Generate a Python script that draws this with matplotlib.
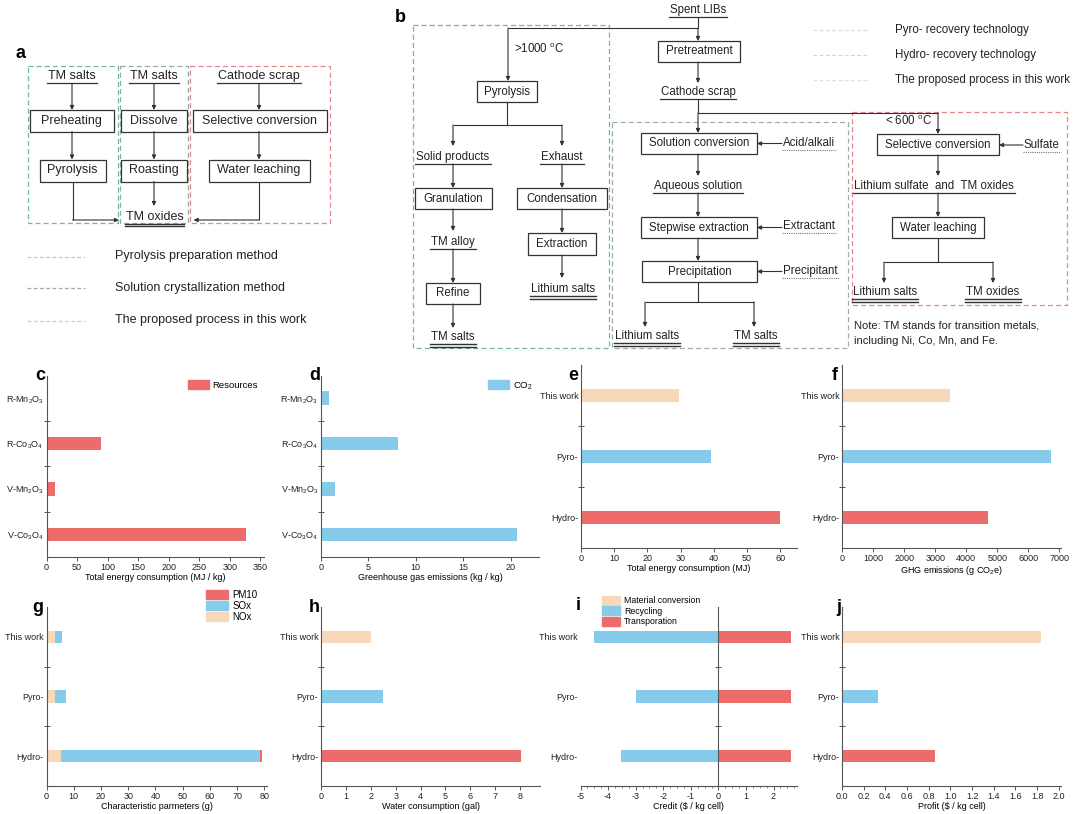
import numpy as np
import matplotlib
matplotlib.use('Agg')
import matplotlib.pyplot as plt
from matplotlib.patches import Rectangle, Patch
from matplotlib.ticker import MultipleLocator

plt.rcParams['font.family'] = ['Liberation Sans', 'DejaVu Sans']
plt.rcParams['mathtext.default'] = 'regular'
plt.rcParams['axes.unicode_minus'] = False

# ---------------- data ----------------
cd_categories = ['R-Mn$_2$O$_3$', 'R-Co$_3$O$_4$', 'V-Mn$_2$O$_3$', 'V-Co$_3$O$_4$']
c_energy = [0, 89, 14, 326]             # MJ / kg
d_ghg = [0.8, 8.1, 1.5, 20.7]           # kg / kg

routes = ['This work', 'Pyro-', 'Hydro-']
e_energy = [29.5, 39.0, 60.0]           # MJ
f_ghg = [3490, 6740, 4710]              # g CO2e
g_nox = [3.2, 3.2, 5.5]
g_sox = [2.5, 3.8, 72.8]
g_pm10 = [0.1, 0.2, 0.8]
h_water = [2.0, 2.5, 8.05]              # gal
i_material = [0.0, 0.0, 0.0]
i_recycling = [-4.5, -3.0, -3.53]
i_transport = [2.63, 2.63, 2.63]
j_profit = [1.84, 0.33, 0.86]

RED = '#EE6B6B'
BLUE = '#86CBEC'
PEACH = '#F9D8BA'
TXT = '#222222'
LINE = '#333333'

W, H = 1080, 814
fig = plt.figure(figsize=(10.8, 8.14), dpi=100)
ov = fig.add_axes([0, 0, 1, 1])
ov.set_xlim(0, W)
ov.set_ylim(H, 0)
ov.axis('off')
renderer = fig.canvas.get_renderer()


def rect(x0, y0, x1, y1, **kw):
    ov.add_patch(Rectangle((x0, y0), x1 - x0, y1 - y0, fill=False, **kw))


def box(x0, y0, x1, y1, label, fs=9):
    rect(x0, y0, x1, y1, ec=LINE, lw=0.9)
    ov.text((x0 + x1) / 2, (y0 + y1) / 2, label, ha='center', va='center',
            fontsize=fs, color=TXT)


def dbox(x0, y0, x1, y1, color):
    rect(x0, y0, x1, y1, ec=color, lw=0.9, ls=(0, (4, 2.5)))


def arrow(x0, y0, x1, y1):
    ov.annotate('', xy=(x1, y1), xytext=(x0, y0),
                arrowprops=dict(arrowstyle='-|>', color=LINE, lw=0.8,
                                mutation_scale=6, shrinkA=0, shrinkB=0))


def line(xs, ys):
    ov.plot(xs, ys, color=LINE, lw=0.8, solid_capstyle='butt')


def utext(x, y, s, fs=9, kind='single', ha='center'):
    t = ov.text(x, y, s, ha=ha, va='center', fontsize=fs, color=TXT)
    bb = t.get_window_extent(renderer)
    x0, x1 = bb.x0 - 1, bb.x1 + 1
    yb = H - bb.y0 + 1
    if kind == 'single':
        ov.plot([x0, x1], [yb, yb], color=LINE, lw=0.9)
    elif kind == 'double':
        ov.plot([x0, x1], [yb, yb], color=LINE, lw=1.0)
        ov.plot([x0, x1], [yb + 2.6, yb + 2.6], color=LINE, lw=1.0)
    elif kind == 'dotted':
        ov.plot([x0, x1], [yb, yb], color='#777777', lw=0.8, ls=(0, (1, 1)))


# ---------------- panel a ----------------
ov.text(20, 53, 'a', fontsize=13, fontweight='bold', ha='center', va='center')
dbox(27.5, 65.5, 117.5, 222.5, '#6FB89F')
dbox(119.5, 65.5, 188, 222.5, '#8FAFA4')
dbox(190, 65.5, 330, 222.5, '#E5868C')

fa = 9
utext(72, 76, 'TM salts', fa)
utext(154, 76, 'TM salts', fa)
utext(259, 76, 'Cathode scrap', fa)
for x in (72, 154, 259):
    arrow(x, 84, x, 110)
box(29.5, 110, 114, 131.5, 'Preheating', fa)
box(120.5, 110, 186.5, 131.5, 'Dissolve', fa)
box(193, 110, 326.5, 131.5, 'Selective conversion', fa)
for x in (72, 154, 259):
    arrow(x, 131.5, x, 159.5)
box(39.5, 159.5, 106, 181.5, 'Pyrolysis', fa)
box(121, 159.5, 186.5, 181.5, 'Roasting', fa)
box(208.5, 159.5, 309.5, 181.5, 'Water leaching', fa)
line([72.5, 72.5], [181.5, 220])
arrow(72.5, 220, 119, 220)
arrow(154, 181.5, 154, 206)
utext(154.5, 216.5, 'TM oxides', fa, 'double')
line([259.3, 259.3], [181.5, 220])
arrow(259.3, 220, 193.5, 220)

for yy, lab, col in [(256.5, 'Pyrolysis preparation method', '#A9D3C8'),
                     (287.5, 'Solution crystallization method', '#9DA9B3'),
                     (320.5, 'The proposed process in this work', '#B9D9C4')]:
    ov.plot([27, 85], [yy, yy], color=col, lw=0.9, ls=(0, (3, 2)))
    ov.text(115, yy, lab, fontsize=9, va='center', ha='left', color=TXT)

# ---------------- panel b ----------------
fb = 8.3
ov.text(400, 17, 'b', fontsize=13, fontweight='bold', ha='center', va='center')
dbox(413, 25, 609, 348, '#6FB89F')
dbox(612, 122, 848, 348, '#A3ABA8')
dbox(852, 112, 1067, 305, '#E5868C')

utext(698, 10, 'Spent LIBs', fb)
line([698, 698], [17, 28])
line([508, 698], [28, 28])
arrow(698, 28, 698, 41)
arrow(508, 28, 508, 81)
ov.text(514, 49, '>1000 $^{o}$C', fontsize=fb, ha='left', va='center', color=TXT)
box(658, 41, 740, 62, 'Pretreatment', fb)
arrow(698, 62, 698, 83)
utext(698, 92, 'Cathode scrap', fb)
line([698, 698], [99, 113])
line([698, 938], [113, 113])

# pyro branch
box(477, 81, 537, 102, 'Pyrolysis', fb)
line([507, 507], [102, 125])
line([453, 562], [125, 125])
arrow(453, 125, 453, 146)
arrow(562, 125, 562, 146)
utext(453, 157, 'Solid products', fb)
utext(562, 157, 'Exhaust', fb)
arrow(453, 164, 453, 188)
arrow(562, 164, 562, 188)
box(415, 188, 492, 209, 'Granulation', fb)
box(517, 188, 607, 209, 'Condensation', fb)
arrow(453, 209, 453, 231)
arrow(562, 209, 562, 233)
utext(453, 242, 'TM alloy', fb)
box(528, 233, 596, 255, 'Extraction', fb)
arrow(453, 249, 453, 283)
box(426, 283, 480, 304, 'Refine', fb)
arrow(562, 255, 562, 278)
utext(563, 289, 'Lithium salts', fb, 'double')
arrow(453, 304, 453, 328)
utext(453, 337, 'TM salts', fb, 'double')

# hydro branch
arrow(698, 113, 698, 133)
box(641, 133, 757, 154, 'Solution conversion', fb)
utext(783, 143, 'Acid/alkali', fb, 'dotted', ha='left')
arrow(782, 143.5, 757, 143.5)
arrow(698, 154, 698, 176)
utext(698, 186, 'Aqueous solution', fb)
arrow(698, 193, 698, 217)
box(641, 217, 757, 238, 'Stepwise extraction', fb)
utext(783, 226, 'Extractant', fb, 'dotted', ha='left')
arrow(782, 227.5, 757, 227.5)
arrow(698, 238, 698, 261)
box(642, 261, 757, 282, 'Precipitation', fb)
utext(783, 271, 'Precipitant', fb, 'dotted', ha='left')
arrow(782, 271.5, 757, 271.5)
line([698, 698], [282, 302])
line([645, 754], [302, 302])
arrow(645, 302, 645, 327)
arrow(754, 302, 754, 327)
utext(647, 336, 'Lithium salts', fb, 'double')
utext(756, 336, 'TM salts', fb, 'double')

# this work branch
ov.text(885, 121, '< 600 $^{o}$C', fontsize=fb, ha='left', va='center', color=TXT)
arrow(938, 113, 938, 134)
box(877, 134, 999, 155, 'Selective conversion', fb)
utext(1024, 145, 'Sulfate', fb, 'dotted', ha='left')
arrow(1023, 145, 999, 145)
arrow(938, 155, 938, 176)
utext(934, 186, 'Lithium sulfate  and  TM oxides', fb)
arrow(938, 193, 938, 217)
box(892, 217, 984, 238, 'Water leaching', fb)
line([938, 938], [238, 262])
line([884, 993], [262, 262])
arrow(884, 262, 884, 283)
arrow(993, 262, 993, 283)
utext(885, 292, 'Lithium salts', fb, 'double')
utext(993, 292, 'TM oxides', fb, 'double')
ov.text(854, 326, 'Note: TM stands for transition metals,', fontsize=8, ha='left',
        va='center', color=TXT)
ov.text(854, 341, 'including Ni, Co, Mn, and Fe.', fontsize=8, ha='left',
        va='center', color=TXT)

for yy, lab, col in [(30, 'Pyro- recovery technology', '#CFE3DE'),
                     (55, 'Hydro- recovery technology', '#D3D6D8'),
                     (80, 'The proposed process in this work', '#D9E6D4')]:
    ov.plot([813, 867], [yy, yy], color=col, lw=0.9, ls=(0, (3, 2)))
    ov.text(895, yy, lab, fontsize=8.3, va='center', ha='left', color=TXT)


# ---------------- bar charts ----------------
def chart(px, xmax, cats, xmin=0):
    x0, y0, x1, y1 = px
    ax = fig.add_axes([x0 / W, 1 - y1 / H, (x1 - x0) / W, (y1 - y0) / H])
    ax.patch.set_alpha(0)
    for s in ['top', 'right']:
        ax.spines[s].set_visible(False)
    for s in ['left', 'bottom']:
        ax.spines[s].set_color('#555555')
        ax.spines[s].set_linewidth(0.8)
    ax.set_xlim(xmin, xmax)
    n = len(cats)
    ax.set_ylim(n - 0.5, -0.5)
    ax.set_yticks(range(n))
    ax.set_yticklabels(cats, fontsize=6.5, color=TXT)
    ax.set_yticks(np.arange(0.5, n - 0.5, 1), minor=True)
    ax.tick_params(axis='y', which='major', length=0, pad=2)
    ax.tick_params(axis='y', which='minor', direction='inout', length=4,
                   width=0.7, color='#555555')
    ax.tick_params(axis='x', which='major', direction='out', length=3,
                   width=0.7, labelsize=6.5, pad=1.2, color='#555555',
                   labelcolor=TXT)
    return ax


def panel_letter(x, y, s):
    ov.text(x, y, s, fontsize=13, fontweight='bold', ha='center', va='center')


def legend(ax, handles, x, y, fs=6.8, hl=2.2, hh=1.15):
    ax.legend(handles=handles, loc='upper left', bbox_to_anchor=(x / W, 1 - y / H),
              bbox_transform=fig.transFigure, frameon=False, fontsize=fs,
              handlelength=hl, handleheight=hh, labelspacing=0.12,
              handletextpad=0.4, borderpad=0, borderaxespad=0)


XL = dict(fontsize=6.5, labelpad=0.5)

# c
ax = chart((46.5, 375.5, 264, 557), 356, cd_categories)
ax.barh(range(4), c_energy, height=0.3, color=RED)
ax.set_xticks(np.arange(0, 351, 50))
ax.set_xlabel('Total energy consumption (MJ / kg)', **XL)
legend(ax, [Patch(color=RED, label='Resources')], 188, 380)
panel_letter(40, 376, 'c')

# d
ax = chart((321, 375.5, 539, 557), 23, cd_categories)
ax.barh(range(4), d_ghg, height=0.3, color=BLUE)
ax.set_xticks(np.arange(0, 21, 5))
ax.set_xlabel('Greenhouse gas emissions (kg / kg)', **XL)
legend(ax, [Patch(color=BLUE, label='CO$_2$')], 488, 380)
panel_letter(315, 376, 'd')

# e
ax = chart((581, 365, 797, 548), 65, routes)
ax.barh(range(3), e_energy, height=0.2, color=[PEACH, BLUE, RED])
ax.set_xticks(np.arange(0, 61, 10))
ax.set_xlabel('Total energy consumption (MJ)', **XL)
panel_letter(573, 376, 'e')

# f
ax = chart((842, 365, 1061, 548), 7050, routes)
ax.barh(range(3), f_ghg, height=0.2, color=[PEACH, BLUE, RED])
ax.set_xticks(np.arange(0, 7001, 1000))
ax.set_xlabel('GHG emissions (g CO$_2$e)', **XL)
panel_letter(835, 376, 'f')

# g
ax = chart((46.5, 607, 267, 786), 81, routes)
left = np.zeros(3)
for vals, col in [(g_nox, PEACH), (g_sox, BLUE), (g_pm10, RED)]:
    ax.barh(range(3), vals, left=left, height=0.21, color=col)
    left = left + np.array(vals)
ax.set_xticks(np.arange(0, 81, 10))
ax.set_xlabel('Characteristic parmeters (g)', **XL)
legend(ax, [Patch(color=RED, label='PM10'), Patch(color=BLUE, label='SOx'),
            Patch(color=PEACH, label='NOx')], 206, 589.5, fs=7, hl=2.3, hh=1.1)
panel_letter(38, 607, 'g')

# h
ax = chart((321, 607, 540, 786), 8.8, routes)
ax.barh(range(3), h_water, height=0.21, color=[PEACH, BLUE, RED])
ax.set_xticks(np.arange(0, 9, 1))
ax.set_xlabel('Water consumption (gal)', **XL)
panel_letter(314, 607, 'h')

# i
ax = chart((580.5, 607, 797, 786), 2.85, routes, xmin=-5)
ax.spines['left'].set_visible(False)
ax.tick_params(axis='y', which='minor', length=0)
ax.barh(range(3), i_material, height=0.21, color=PEACH)
ax.barh(range(3), i_recycling, height=0.21, color=BLUE)
ax.barh(range(3), i_transport, height=0.21, color=RED)
ax.axvline(0, color='#555555', lw=0.8)
ax.plot([0, 0], [0.5, 1.5], ls='none', marker='_', ms=5, mew=0.7, color='#555555')
ax.set_xticks(np.arange(-5, 3, 1))
ax.xaxis.set_minor_locator(MultipleLocator(0.25))
ax.tick_params(axis='x', which='minor', direction='out', length=1.6, width=0.5,
               color='#555555')
ax.set_xlabel('Credit ($ / kg cell)', **XL)
legend(ax, [Patch(color=PEACH, label='Material conversion'),
            Patch(color=BLUE, label='Recycling'),
            Patch(color=RED, label='Transporation')], 602, 596, fs=6.3, hl=2.1, hh=1.2)
panel_letter(578, 605, 'i')

# j
ax = chart((842, 607, 1061, 786), 2.02, routes)
ax.barh(range(3), j_profit, height=0.21, color=[PEACH, BLUE, RED])
ax.set_xticks(np.round(np.arange(0, 2.01, 0.2), 1))
ax.set_xticklabels([f'{v:.1f}' for v in np.arange(0, 2.01, 0.2)])
ax.set_xlabel('Profit ($ / kg cell)', **XL)
panel_letter(839, 607, 'j')

fig.savefig('out.png', dpi=100)
